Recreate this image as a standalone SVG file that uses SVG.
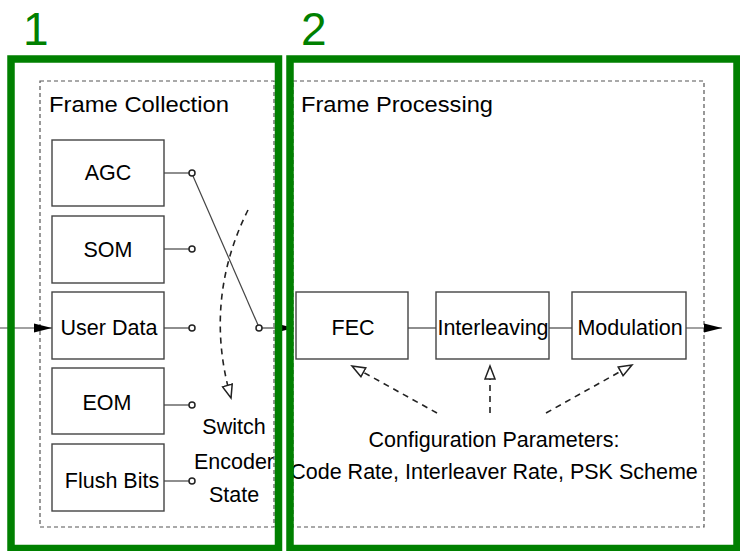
<svg xmlns="http://www.w3.org/2000/svg" width="740" height="551" viewBox="0 0 740 551">
<style>
text{font-family:"Liberation Sans",Arial,sans-serif;fill:#000}
.lbl{font-size:21.5px;text-anchor:middle}
.box{fill:#fff;stroke:#444;stroke-width:1.4}
.frame{fill:none;stroke:#555;stroke-width:1.2;stroke-dasharray:4,3}
.green{fill:none;stroke:#008000;stroke-width:7.5}
.num{font-size:46px;fill:#008000}
.wire{stroke:#444;stroke-width:1.2;fill:none}
.dash{stroke:#222;stroke-width:1.6;fill:none;stroke-dasharray:6,5}
.term{fill:#fff;stroke:#222;stroke-width:1.5}
</style>
<defs>
<marker id="fill" markerUnits="userSpaceOnUse" markerWidth="19" markerHeight="11" refX="18" refY="5" orient="auto">
<path d="M0,0.5 L18,5 L0,9.5 z" fill="#000"/>
</marker>
<marker id="open" markerUnits="userSpaceOnUse" markerWidth="16" markerHeight="12" refX="14" refY="6" orient="auto">
<path d="M1,1 L14,6 L1,11 z" fill="#fff" stroke="#222" stroke-width="1.5"/>
</marker>
</defs>
<rect width="740" height="551" fill="#fff"/>
<g id="frame-collection">
<rect class="frame" x="40" y="81" width="234" height="446"/>
<text x="49" y="112" font-size="22" textLength="180" lengthAdjust="spacingAndGlyphs">Frame Collection</text>
</g>
<g id="frame-processing">
<rect class="frame" x="293" y="81" width="411" height="446"/>
<text x="301" y="112" font-size="22" textLength="192" lengthAdjust="spacingAndGlyphs">Frame Processing</text>
</g>
<g id="connectors">
<line class="wire" x1="0" y1="328" x2="52" y2="328" marker-end="url(#fill)"/>
<line class="wire" x1="164" y1="173" x2="189" y2="173"/>
<line class="wire" x1="164" y1="249" x2="189" y2="249"/>
<line class="wire" x1="164" y1="328" x2="189" y2="328"/>
<line class="wire" x1="164" y1="405" x2="189" y2="405" stroke="#aaa"/>
<line class="wire" x1="164" y1="481" x2="189" y2="481"/>
<line class="wire" x1="193" y1="176" x2="258" y2="325"/>
<line class="wire" x1="262" y1="328" x2="294" y2="328" marker-end="url(#fill)"/>
<line class="wire" x1="408" y1="328" x2="436" y2="328"/>
<line class="wire" x1="549" y1="328" x2="572" y2="328"/>
<line class="wire" x1="686" y1="328" x2="722" y2="328" marker-end="url(#fill)"/>
<path class="dash" d="M248,210 C222,262 210,325 231,398" marker-end="url(#open)"/>
<line class="dash" x1="437" y1="413" x2="352" y2="366" marker-end="url(#open)"/>
<line class="dash" x1="490" y1="413" x2="490" y2="366" marker-end="url(#open)"/>
<line class="dash" x1="546" y1="413" x2="632" y2="365" marker-end="url(#open)"/>
<circle class="term" cx="192" cy="173" r="3"/>
<circle class="term" cx="192" cy="249" r="3"/>
<circle class="term" cx="192" cy="328" r="3"/>
<circle class="term" cx="192" cy="405" r="3"/>
<circle class="term" cx="192" cy="481" r="3"/>
<circle class="term" cx="259" cy="328" r="3"/>
</g>
<g id="agc"><rect class="box" x="52" y="140" width="112" height="66"/><text class="lbl" x="108" y="180">AGC</text></g>
<g id="som"><rect class="box" x="52" y="216" width="112" height="67"/><text class="lbl" x="108" y="257">SOM</text></g>
<g id="user-data"><rect class="box" x="52" y="292" width="112" height="67"/><text class="lbl" x="109" y="335">User Data</text></g>
<g id="eom"><rect class="box" x="52" y="368" width="112" height="66"/><text class="lbl" x="107" y="410">EOM</text></g>
<g id="flush-bits"><rect class="box" x="52" y="444" width="112" height="67"/><text class="lbl" x="112" y="488">Flush Bits</text></g>
<g id="switch-label">
<text class="lbl" x="234" y="434">Switch</text>
<text class="lbl" x="234" y="469">Encoder</text>
<text class="lbl" x="234" y="502">State</text>
</g>
<g id="fec"><rect class="box" x="296" y="292" width="112" height="67"/><text class="lbl" x="353" y="335">FEC</text></g>
<g id="interleaving"><rect class="box" x="436" y="292" width="113" height="67"/><text class="lbl" x="493" y="335">Interleaving</text></g>
<g id="modulation"><rect class="box" x="572" y="292" width="114" height="67"/><text class="lbl" x="630" y="335">Modulation</text></g>
<g id="config">
<text class="lbl" x="494" y="447">Configuration Parameters:</text>
<text class="lbl" x="494" y="479">Code Rate, Interleaver Rate, PSK Scheme</text>
</g>
<g id="stage-1">
<rect class="green" x="11" y="59" width="267.5" height="489.5"/>
<text class="num" x="23" y="45">1</text>
</g>
<g id="stage-2">
<rect class="green" x="290" y="59" width="447" height="489.5"/>
<text class="num" x="301" y="45">2</text>
</g>
</svg>
